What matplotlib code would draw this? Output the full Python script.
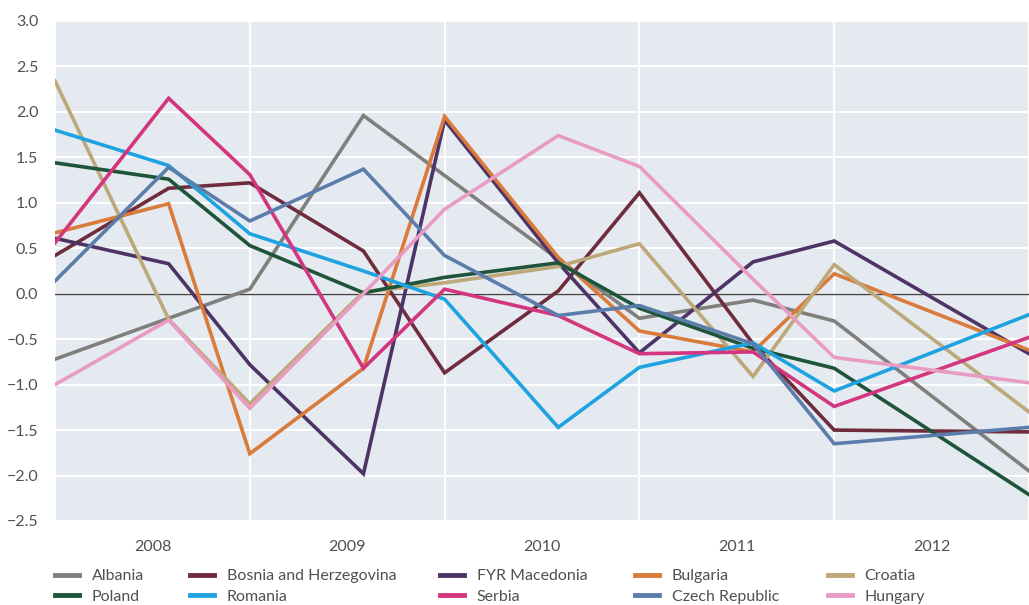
#! /usr/bin/env python3

import matplotlib
matplotlib.use("Agg")
import matplotlib.pyplot as plt
from matplotlib.lines import Line2D

plt.rcParams["font.family"] = ["Lato", "DejaVu Sans"]

# months since Jan 2008 at which each observation sits
months = [0, 7, 12, 19, 24, 31, 36, 43, 48, 60]
years = ["2008", "2009", "2010", "2011", "2012"]

albania = [-0.72, -0.27, 0.05, 1.96, 1.30, 0.38, -0.27, -0.07, -0.30, -1.95]
bosnia = [0.42, 1.16, 1.22, 0.47, -0.87, 0.03, 1.11, -0.55, -1.50, -1.52]
macedonia = [0.61, 0.33, -0.78, -1.98, 1.91, 0.34, -0.65, 0.35, 0.58, -0.66]
bulgaria = [0.67, 0.99, -1.76, -0.82, 1.95, 0.40, -0.41, -0.64, 0.22, -0.62]
croatia = [2.34, -0.28, -1.21, 0.02, 0.12, 0.30, 0.55, -0.91, 0.32, -1.30]
poland = [1.44, 1.26, 0.53, 0.01, 0.18, 0.34, -0.16, -0.60, -0.82, -2.21]
romania = [1.80, 1.41, 0.66, 0.25, -0.06, -1.47, -0.81, -0.54, -1.07, -0.23]
serbia = [0.56, 2.15, 1.31, -0.82, 0.05, -0.24, -0.66, -0.64, -1.24, -0.48]
czech = [0.14, 1.39, 0.80, 1.37, 0.42, -0.24, -0.13, -0.55, -1.65, -1.47]
hungary = [-1.00, -0.29, -1.26, 0.00, 0.93, 1.74, 1.40, 0.16, -0.70, -0.98]

series = [
    ("Albania", albania, "#807f7b"),
    ("Bosnia and Herzegovina", bosnia, "#6e2c3c"),
    ("FYR Macedonia", macedonia, "#4e3466"),
    ("Bulgaria", bulgaria, "#d97b3a"),
    ("Croatia", croatia, "#bca878"),
    ("Poland", poland, "#1e553a"),
    ("Romania", romania, "#1fa3e0"),
    ("Serbia", serbia, "#d4357f"),
    ("Czech Republic", czech, "#5b7dab"),
    ("Hungary", hungary, "#e99cc3"),
]

fig = plt.figure(figsize=(10.29, 6.05), dpi=100)
ax = fig.add_axes([55 / 1029, 1 - 521 / 605, 1 - 55 / 1029, 500 / 605])
ax.set_facecolor("#e5eaf1")

for name, vals, col in series:
    ax.plot(months, vals, color=col, lw=2.6, solid_joinstyle="miter", zorder=3)

ax.axhline(0, color="#444444", lw=1.0, zorder=2)

ax.set_xlim(0, 60)
ax.set_ylim(-2.5, 3.0)
ax.set_xticks(range(0, 61, 12))
ax.set_xticklabels([])
ax.set_xticks(range(6, 60, 12), minor=True)
ax.set_xticklabels(years, minor=True)
ax.set_yticks([-2.5 + 0.5 * i for i in range(12)])
ax.set_yticklabels([f"{-2.5 + 0.5 * i:.1f}".replace("-", "\u2212") for i in range(12)])
ax.grid(True, which="major", color="white", lw=1.4, zorder=1)
ax.tick_params(which="both", length=0, labelsize=11.5, labelcolor="#505050")
ax.tick_params(axis="y", pad=12)
ax.tick_params(axis="x", which="minor", pad=14)
for s in ax.spines.values():
    s.set_visible(False)

# legend: five columns of two rows, placed by hand
col_x = [55, 190, 440, 635, 828]
for i, x in enumerate(col_x):
    pair = [series[i], series[i + 5]]
    handles = [Line2D([], [], color=c, lw=3.5) for _, _, c in pair]
    fig.legend(handles, [n for n, _, _ in pair], loc="upper left",
               bbox_to_anchor=(x / 1029, 1 - 569 / 605), frameon=False,
               fontsize=11.5, labelcolor="#505050",
               handlelength=1.5, handletextpad=0.8, borderpad=0,
               borderaxespad=0, labelspacing=0.4)

fig.savefig("out.png", dpi=100)
